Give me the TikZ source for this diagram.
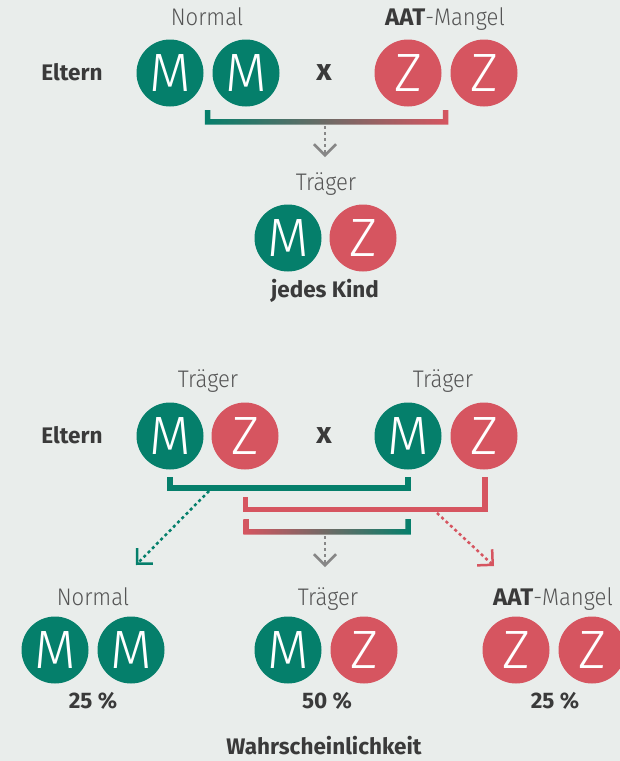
\documentclass[tikz,border=0pt]{standalone}
\usepackage{fontspec}
\setmainfont{Fira Sans}
\newfontfamily\lightfont{Fira Sans Light}[FakeStretch=0.92]
\newfontfamily\thinfont{Fira Sans Light}
\usetikzlibrary{arrows.meta}
\definecolor{gr}{RGB}{5,127,107}
\definecolor{rd}{RGB}{214,85,96}
\definecolor{bg}{RGB}{233,237,235}
\definecolor{lbl}{RGB}{85,85,85}
\definecolor{dk}{RGB}{58,58,58}
\definecolor{arr}{RGB}{135,135,135}
\begin{document}
\begin{tikzpicture}[x=1pt,y=-1pt,
  allele/.style={circle,minimum size=67pt,inner sep=0pt,text=white,
    font=\thinfont\fontsize{54}{54}\selectfont},
  gm/.style={allele,fill=gr},
  rz/.style={allele,fill=rd},
  lab/.style={anchor=base,text=lbl,inner sep=0pt,
    font=\lightfont\fontsize{24}{24}\selectfont},
  bld/.style={anchor=base,text=dk,inner sep=0pt,
    font=\bfseries\fontsize{22.5}{22.5}\selectfont},
  cross/.style={bld,font=\bfseries\fontsize{30}{30}\selectfont},
  dotarrow/.style={line width=2.5pt,dash pattern=on 3pt off 3pt,
    -{Straight Barb[length=11pt,width=22pt]}},
  bracket/.style={line width=5.5pt,miter limit=10}
]
\useasboundingbox (0,0) rectangle (620,761);
\fill[bg] (0,0) rectangle (620,761);

% ---------- top: parents ----------
\node[bld] (e1) at (72,80.5) {Eltern};
\node[lab] (n1) at (207,25) {Normal};
\node[lab] (a1) at (445,25) {{\normalfont\bfseries\color{dk}AAT}-Mangel};
\node[gm] (pm1) at (170,73) {M};
\node[gm] (pm2) at (246,73) {M};
\node[cross] (x1) at (324,80) {x};
\node[rz] (pz1) at (408,73) {Z};
\node[rz] (pz2) at (484,73) {Z};

% gradient bracket
\shade[left color=gr,right color=rd]
  (204.75,110) -- (204.75,124.5) -- (448.25,124.5) -- (448.25,110) --
  (442.75,110) -- (442.75,119) -- (210.25,119) -- (210.25,110) -- cycle;
\coordinate (ta) at (325,126);
\coordinate (tb) at (325,157);
\draw[dotarrow,arr] (ta) -- (tb);

% child
\node[lab] (t0) at (326,190) {Träger};
\node[gm] (cm) at (288,238) {M};
\node[rz] (cz) at (363,238) {Z};
\node[bld] (jk) at (325,297) {jedes Kind};

% ---------- bottom: parents ----------
\node[bld] (e2) at (72,443) {Eltern};
\node[lab] (t1) at (208,387) {Träger};
\node[lab] (t2) at (443,387) {Träger};
\node[gm] (qm1) at (170,436) {M};
\node[rz] (qz1) at (245,436) {Z};
\node[cross] (x2) at (324,443) {x};
\node[gm] (qm2) at (408,436) {M};
\node[rz] (qz2) at (484,436) {Z};

% brackets
\coordinate (g1) at (170,477);
\coordinate (g2) at (408,477);
\draw[bracket,gr] (g1) -- (170,487.75) -- (408,487.75) -- (g2);
\coordinate (r1) at (245.5,497);
\coordinate (r2) at (485,477);
\draw[bracket,rd] (r1) -- (245.5,509.25) -- (485,509.25) -- (r2);
\shade[left color=rd,right color=gr]
  (243.25,519) -- (243.25,534.5) -- (410.75,534.5) -- (410.75,519) --
  (405.25,519) -- (405.25,529) -- (248.75,529) -- (248.75,519) -- cycle;

% arrows
\coordinate (ga) at (209,491);
\coordinate (gb) at (136,565);
\draw[dotarrow,gr] (ga) -- (gb);
\coordinate (ma) at (325,536);
\coordinate (mb) at (325,567);
\draw[dotarrow,arr] (ma) -- (mb);
\coordinate (ra) at (437,513);
\coordinate (rb) at (494,566);
\draw[dotarrow,rd] (ra) -- (rb);

% ---------- bottom: children ----------
\node[lab] (n2) at (93,605) {Normal};
\node[lab] (t3) at (328,605) {Träger};
\node[lab] (a2) at (553,605) {{\normalfont\bfseries\color{dk}AAT}-Mangel};
\node[gm] (km1) at (55,650) {M};
\node[gm] (km2) at (131,650) {M};
\node[gm] (km3) at (288,650) {M};
\node[rz] (kz3) at (364,650) {Z};
\node[rz] (kz4) at (516,650) {Z};
\node[rz] (kz5) at (592,650) {Z};
\node[bld] (p1) at (93,708) {25 \%};
\node[bld] (p2) at (327,708) {50 \%};
\node[bld] (p3) at (555,708) {25 \%};
\node[bld] (w) at (324,754) {Wahrscheinlichkeit};
\end{tikzpicture}
\end{document}
